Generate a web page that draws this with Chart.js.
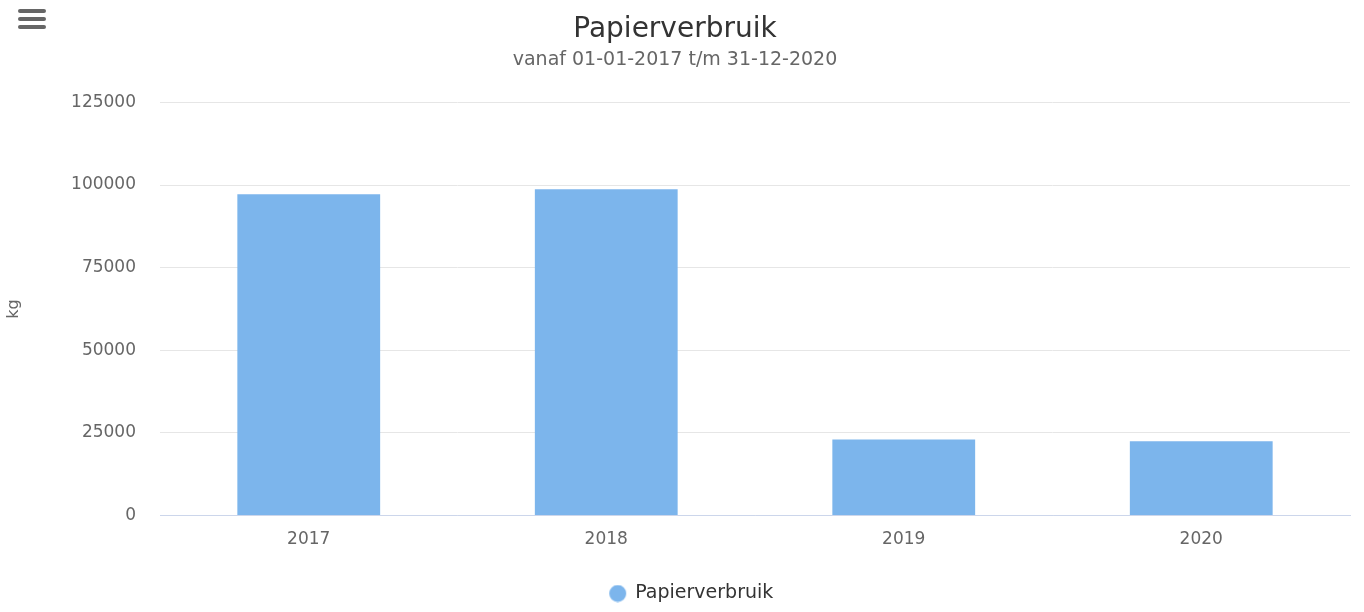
<!DOCTYPE html>
<html>
<head>
<meta charset="utf-8">
<script src="https://cdn.jsdelivr.net/npm/chart.js@4.4.0/dist/chart.umd.min.js"></script>
<style>
  html, body { margin: 0; padding: 0; background: #fff; }
  #wrap { position: relative; width: 1364px; height: 612px; }
  .menu { position: absolute; left: 18px; top: 9px; width: 28px; }
  .menu span { display: block; height: 4px; background: #666; border-radius: 2px; margin-bottom: 4px; }
</style>
</head>
<body>
<div id="wrap">
  <canvas id="chart" width="1364" height="612"></canvas>
  <div class="menu"><span></span><span></span><span></span></div>
</div>
<script>
const years = ["2017", "2018", "2019", "2020"];
const paperUsage = [97200, 98700, 23000, 22500];
const yTicks = [0, 25000, 50000, 75000, 100000, 125000];

const font = "'DejaVu Sans', Verdana, sans-serif";

// legend marker: circle sitting right of centre in a wider image, so the gap to the text is right
function legendDot(color) {
    const c = document.createElement('canvas');
    c.width = 22;
    c.height = 18;
    const g = c.getContext('2d');
    g.fillStyle = color;
    g.beginPath();
    g.arc(12.5, 9, 8.5, 0, Math.PI * 2);
    g.fill();
    return c;
}

// the legend sits a bit right of the canvas centre and low in the original
const shiftLegend = {
    id: 'shiftLegend',
    afterLayout(chart) {
        if (!chart.legend) return;
        chart.legend.left += 30;
        chart.legend.top += 1;
    }
};

const ctx = document.getElementById('chart').getContext('2d');
new Chart(ctx, {
    type: 'bar',
    data: {
        labels: years,
        datasets: [{
            label: 'Papierverbruik',
            data: paperUsage,
            backgroundColor: '#7cb5ec',
            borderWidth: 0,
            barPercentage: 0.48,
            categoryPercentage: 1,
            pointStyle: legendDot('#7cb5ec')
        }]
    },
    options: {
        responsive: false,
        animation: false,
        layout: { padding: { left: 0, right: 14, top: 0, bottom: 0 } },
        plugins: {
            title: {
                display: true,
                text: 'Papierverbruik',
                color: '#333',
                font: { family: font, size: 28, weight: 'normal' },
                padding: { top: 13, bottom: 2 }
            },
            subtitle: {
                display: true,
                text: 'vanaf 01-01-2017 t/m 31-12-2020',
                color: '#666',
                font: { family: font, size: 19 },
                padding: { top: 0, bottom: 31 }
            },
            legend: {
                position: 'bottom',
                labels: {
                    usePointStyle: true,
                    color: '#333',
                    font: { family: font, size: 19 },
                    padding: 10
                }
            },
            tooltip: { enabled: false }
        },
        scales: {
            x: {
                grid: { display: false },
                border: { display: true, color: '#ccd6eb', width: 1 },
                ticks: { color: '#666', font: { family: font, size: 17 }, padding: 6 },
                afterFit: axis => { axis.height += 17; }
            },
            y: {
                min: 0,
                max: 125000,
                afterBuildTicks: axis => { axis.ticks = yTicks.map(v => ({ value: v })); },
                afterFit: axis => { axis.width = 160; },
                grid: { color: '#e6e6e6', drawTicks: false },
                border: { display: false },
                ticks: {
                    color: '#666',
                    font: { family: font, size: 17 },
                    padding: 24,
                    callback: v => String(v)
                },
                title: {
                    display: true,
                    text: 'kg',
                    color: '#666',
                    font: { family: font, size: 16 },
                    padding: { top: 4, bottom: 0 }
                }
            }
        }
    },
    plugins: [shiftLegend]
});
</script>
</body>
</html>
